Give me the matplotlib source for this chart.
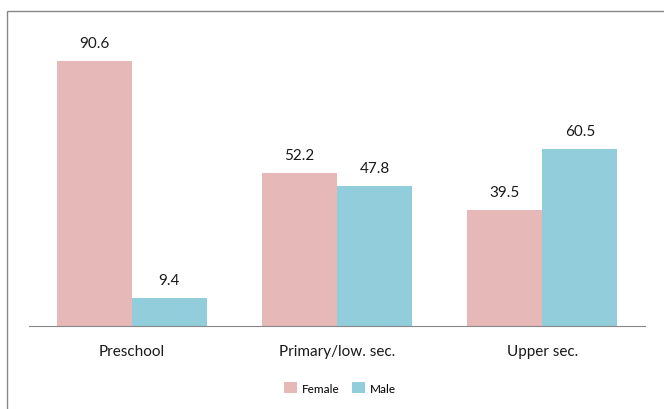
import matplotlib.pyplot as plt
import numpy as np
from matplotlib.patches import Rectangle

categories = ['Preschool', 'Primary/low. sec.', 'Upper sec.']
female = [90.6, 52.2, 39.5]
male = [9.4, 47.8, 60.5]

plt.rcParams['font.family'] = ['Lato', 'DejaVu Sans']

fig = plt.figure(figsize=(6.64, 4.10), dpi=100)
ax = fig.add_axes([29/664, 1-327/410, 616/664, 295/410])

x = np.arange(len(categories))
w = 0.366
b1 = ax.bar(x - w/2, female, w, color='#E6B8B7', label='Female')
b2 = ax.bar(x + w/2, male, w, color='#92CDDC', label='Male')

for bars in (b1, b2):
    for r in bars:
        ax.annotate(f'{r.get_height():.1f}', (r.get_x() + r.get_width()/2, r.get_height()),
                    xytext=(0, 8), textcoords='offset points', ha='center', va='bottom',
                    fontsize=11, color='#1a1a1a')

ax.set_xlim(-0.5, 2.5)
ax.set_ylim(0, 100.8)
ax.set_xticks(x)
ax.set_xticklabels(categories, fontsize=11, color='#1a1a1a')
ax.tick_params(axis='x', length=0, pad=13)
ax.set_yticks([])
for s in ['top', 'right', 'left']:
    ax.spines[s].set_visible(False)
ax.spines['bottom'].set_color('#888888')

fig.legend(loc='center', bbox_to_anchor=(0.512, 0.051), ncol=2, frameon=False,
           fontsize=8.5, handlelength=1.1, handleheight=1.0, handletextpad=0.4,
           columnspacing=1.0)

fig.add_artist(Rectangle((7/664, -0.1), 1.0, 1-12/410+0.1, transform=fig.transFigure,
                         fill=False, edgecolor='#888888', lw=1))

fig.savefig('out.png', dpi=100)
